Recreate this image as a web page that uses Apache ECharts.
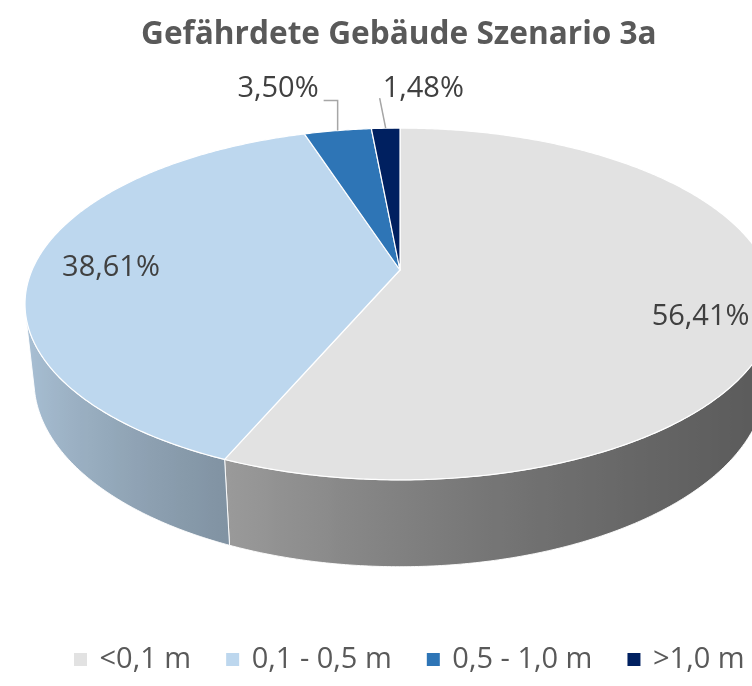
<!DOCTYPE html>
<html>
<head>
<meta charset="utf-8">
<script src="https://cdn.jsdelivr.net/npm/echarts/dist/echarts.min.js"></script>
<style>
html,body{margin:0;padding:0;background:#fff;}
#chart{width:752px;height:686px;}
</style>
</head>
<body>
<div id="chart"></div>
<script>
// ---- data ----
const titleText = 'Gefährdete Gebäude Szenario 3a';
const categories = ['<0,1 m', '0,1 - 0,5 m', '0,5 - 1,0 m', '>1,0 m'];
const values = [56.41, 38.61, 3.50, 1.48];
const colors = ['#e2e2e2', '#bdd7ee', '#2e75b6', '#002060'];

// ---- 3D view / layout settings (styling) ----
const VIEW = {
  cx: 400, cy: 270, f: 1691, D: 4.596, alpha: 27.4 * Math.PI / 180, h: 0.236
};
const SIN_A = Math.sin(VIEW.alpha), COS_A = Math.cos(VIEW.alpha);
const LABEL_FONT = '29px "Open Sans"';
const LABEL_COLOR = '#404040';
const insideLabel = { r: 0.8, nudge: { 0: [3, 19], 1: [3, 4] } };
const outsideLabel = {
  2: { pts: [[0, -30], [-14, -30]], align: 'right', tx: -5, ty: -12 },
  3: { pts: [[-6, -30]], align: 'left', tx: 3, ty: -9 }
};

function proj(X, Y, Z) {
  const yc = Y * SIN_A + Z * COS_A;
  const zc = VIEW.D + Y * COS_A - Z * SIN_A;
  return [VIEW.cx + VIEW.f * X / zc, VIEW.cy - VIEW.f * yc / zc];
}
function rim(thetaDeg, r, Z) {
  const t = thetaDeg * Math.PI / 180;
  return proj(r * Math.sin(t), r * Math.cos(t), Z);
}
// visible outer wall range (degrees, clockwise from top)
const VIS_C = Math.acos(-1 / (VIEW.D * COS_A)) * 180 / Math.PI;
const VIS0 = VIS_C, VIS1 = 360 - VIS_C;

function sliceAngles(api, idx) {
  let total = 0, before = 0;
  for (let k = 0; k < values.length; k++) total += values[k];
  for (let k = 0; k < idx; k++) before += values[k];
  const v = api.value(0);
  return [before / total * 360, (before + v) / total * 360];
}
function hexRgb(hex) {
  const n = parseInt(hex.slice(1), 16);
  return [(n >> 16) & 255, (n >> 8) & 255, n & 255];
}
function shade(hex, thetaDeg) {
  const s = Math.sin(thetaDeg * Math.PI / 180);
  const k = 0.57 - 0.26 * s + 0.08 * s * s;
  const c = hexRgb(hex).map(v => Math.max(0, Math.min(255, Math.round(v * k))));
  return 'rgb(' + c.join(',') + ')';
}
function fmt(v) { return v.toFixed(2).replace('.', ',') + '%'; }

function renderWall(params, api) {
  const i = params.dataIndex;
  const [t0, t1] = sliceAngles(api, i);
  const a = Math.max(t0, VIS0), b = Math.min(t1, VIS1);
  if (b <= a) return { type: 'group', children: [] };
  const n = Math.max(2, Math.ceil((b - a) / 0.5));
  const top = [], bot = [], stops = [];
  for (let j = 0; j <= n; j++) {
    const t = a + (b - a) * j / n;
    top.push(rim(t, 1, 0));
    bot.push(rim(t, 1, -VIEW.h));
  }
  const xs = top.concat(bot).map(p => p[0]);
  const minX = Math.min.apply(null, xs), maxX = Math.max.apply(null, xs);
  for (let j = 0; j <= n; j += 2) {
    const t = a + (b - a) * j / n;
    const x = rim(t, 1, 0)[0];
    stops.push({ offset: Math.max(0, Math.min(1, (x - minX) / (maxX - minX))), color: shade(colors[i], t) });
  }
  stops.sort((p, q) => p.offset - q.offset);
  const points = top.concat(bot.reverse());
  return {
    type: 'polygon',
    shape: { points: points },
    style: {
      fill: { type: 'linear', x: minX, y: 0, x2: maxX, y2: 0, colorStops: stops, global: true },
      stroke: 'rgba(255,255,255,0.9)', lineWidth: 1
    }
  };
}

function renderTop(params, api) {
  const i = params.dataIndex;
  const [t0, t1] = sliceAngles(api, i);
  const n = Math.max(2, Math.ceil((t1 - t0) / 0.5));
  const pts = [proj(0, 0, 0)];
  for (let j = 0; j <= n; j++) pts.push(rim(t0 + (t1 - t0) * j / n, 1, 0));
  const children = [{
    type: 'polygon',
    shape: { points: pts },
    style: { fill: colors[i], stroke: '#ffffff', lineWidth: 1.2, lineJoin: 'round' }
  }];
  const mid = (t0 + t1) / 2;
  const text = fmt(api.value(0));
  if (outsideLabel[i]) {
    const cfg = outsideLabel[i];
    const p = rim(mid, 1, 0);
    const line = [p].concat(cfg.pts.map(d => [p[0] + d[0], p[1] + d[1]]));
    const end = line[line.length - 1];
    children.push({
      type: 'polyline', shape: { points: line },
      style: { stroke: '#a6a6a6', lineWidth: 1.5, fill: null }
    });
    children.push({
      type: 'text',
      style: { text: text, x: end[0] + cfg.tx, y: end[1] + cfg.ty, font: LABEL_FONT, fill: LABEL_COLOR, align: cfg.align, verticalAlign: 'middle' }
    });
  } else {
    const p = rim(mid, insideLabel.r, 0);
    const nd = insideLabel.nudge[i] || [0, 0];
    children.push({
      type: 'text',
      style: { text: text, x: p[0] + nd[0], y: p[1] + nd[1], font: LABEL_FONT, fill: LABEL_COLOR, align: 'center', verticalAlign: 'middle' }
    });
  }
  return { type: 'group', children: children };
}

const chart = echarts.init(document.getElementById('chart'), null, { renderer: 'canvas' });
chart.setOption({
  backgroundColor: '#ffffff',
  animation: false,
  title: {
    text: titleText,
    left: 141, top: 19, padding: 0,
    textStyle: { fontFamily: 'Open Sans', fontWeight: 'bold', fontSize: 31.6, color: '#595959' }
  },
  legend: {
    data: categories,
    left: 69, top: 640,
    icon: 'rect', itemWidth: 13, itemHeight: 13, itemGap: 35,
    formatter: name => ' ' + name,
    textStyle: { fontFamily: 'Open Sans', fontSize: 29, color: '#595959' }
  },
  series: [
    {
      type: 'custom', name: 'walls', coordinateSystem: 'none', silent: true, z: 1,
      data: values, renderItem: renderWall
    },
    {
      type: 'custom', name: 'tops', coordinateSystem: 'none', silent: true, z: 2,
      data: values, renderItem: renderTop
    },
    {
      type: 'pie', name: 'legendProxy', radius: [0, 0], center: [-100, -100], silent: true,
      label: { show: false }, labelLine: { show: false },
      data: categories.map((c, k) => ({ name: c, value: values[k], itemStyle: { color: colors[k] } }))
    }
  ]
});
</script>
</body>
</html>
